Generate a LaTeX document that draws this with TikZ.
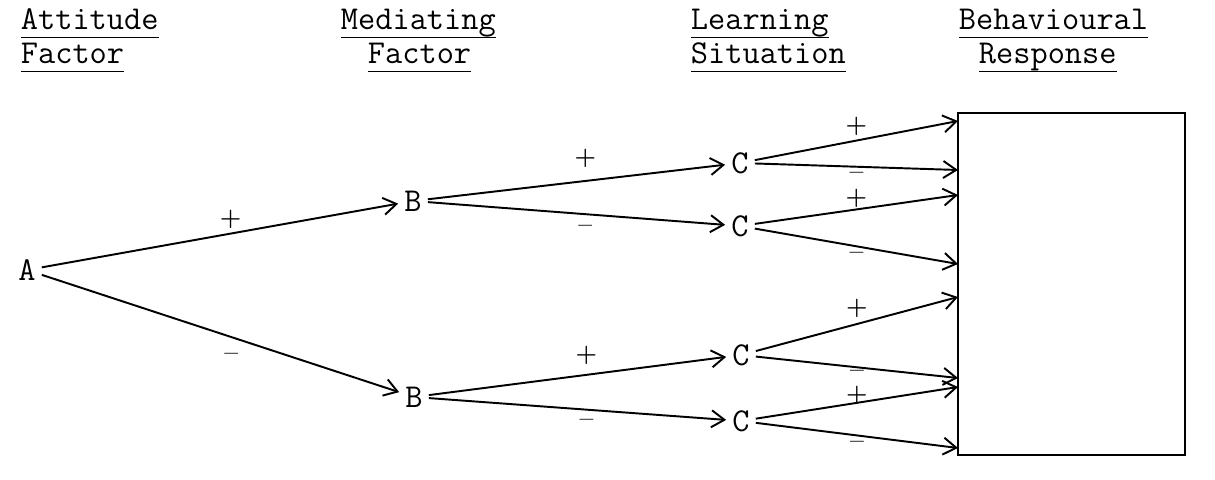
\documentclass[tikz,border=0pt]{standalone}
\usepackage{tikz}
\usetikzlibrary{arrows.meta,positioning}
\newcommand{\hdline}[1]{\setbox0\hbox{#1}\rlap{\vrule height -0.2em depth 0.25em width \wd0}\box0}

\begin{document}
\begin{tikzpicture}[>={Straight Barb[length=2.6mm,width=3.4mm]},line width=1.1pt,
  hd/.style={anchor=base west,inner sep=0pt,font=\fontsize{19}{22}\selectfont\ttfamily},
  lt/.style={inner sep=3pt,font=\fontsize{19}{22}\selectfont\ttfamily},
  sgn/.style={inner sep=0pt,text height=0.5em,text depth=0pt,font=\fontsize{14}{16}\selectfont\bfseries}]
  \useasboundingbox (0,0) rectangle (24.3,9.58);
  % column headings
  \node[hd] (att) at (0.40,8.98) {\hdline{Attitude}};
  \node[hd] (attf) at (0.40,8.30) {\hdline{Factor}};
  \node[hd] (med) at (6.80,8.98) {\hdline{Mediating}};
  \node[hd] (medf) at (7.34,8.30) {\hdline{Factor}};
  \node[hd] (lrn) at (13.80,8.98) {\hdline{Learning}};
  \node[hd] (lrns) at (13.80,8.30) {\hdline{Situation}};
  \node[hd] (beh) at (19.16,8.98) {\hdline{Behavioural}};
  \node[hd] (behr) at (19.56,8.30) {\hdline{Response}};
  % factors
  \node[lt] (A) at (0.54,4.18) {A};
  \node[lt] (B1) at (8.26,5.56) {B};
  \node[lt] (B2) at (8.28,1.64) {B};
  \node[lt] (C1) at (14.80,6.32) {C};
  \node[lt] (C2) at (14.80,5.06) {C};
  \node[lt] (C3) at (14.82,2.48) {C};
  \node[lt] (C4) at (14.82,1.16) {C};
  % response box
  \node[draw,inner sep=0pt,minimum width=4.54cm,minimum height=6.84cm] (resp) at (21.43,3.90) {};
  \coordinate (r1) at (19.16,7.16);
  \coordinate (r2) at (19.16,6.18);
  \coordinate (r3) at (19.16,5.68);
  \coordinate (r4) at (19.16,4.30);
  \coordinate (r5) at (19.16,3.64);
  \coordinate (r6) at (19.16,2.02);
  \coordinate (r7) at (19.16,1.84);
  \coordinate (r8) at (19.16,0.62);
  % branches
  \draw[->] (A) -- node[sgn,above=4pt,pos=0.53] (pa) {+} (B1);
  \draw[->] (A) -- node[sgn,below=8pt,pos=0.53] (ma) {--} (B2);
  \draw[->] (B1) -- node[sgn,above=9pt,pos=0.53] (pb1) {+} (C1);
  \draw[->] (B1) -- node[sgn,below=5pt,pos=0.53] (mb1) {--} (C2);
  \draw[->] (B2) -- node[sgn,above=7pt,pos=0.53] (pb2) {+} (C3);
  \draw[->] (B2) -- node[sgn,below=4pt,pos=0.53] (mb2) {--} (C4);
  \draw[->] (C1) -- node[sgn,above=4pt] (pc1) {+} (r1);
  \draw[->] (C1) -- node[sgn,below=1.5pt] (mc1) {--} (r2);
  \draw[->] (C2) -- node[sgn,above=2.5pt] (pc2) {+} (r3);
  \draw[->] (C2) -- node[sgn,below=2pt] (mc2) {--} (r4);
  \draw[->] (C3) -- node[sgn,above=5pt] (pc3) {+} (r5);
  \draw[->] (C3) -- node[sgn,below=0.5pt] (mc3) {--} (r6);
  \draw[->] (C4) -- node[sgn,above=0pt] (pc4) {+} (r7);
  \draw[->] (C4) -- node[sgn,below=2pt] (mc4) {--} (r8);
\end{tikzpicture}
\end{document}
